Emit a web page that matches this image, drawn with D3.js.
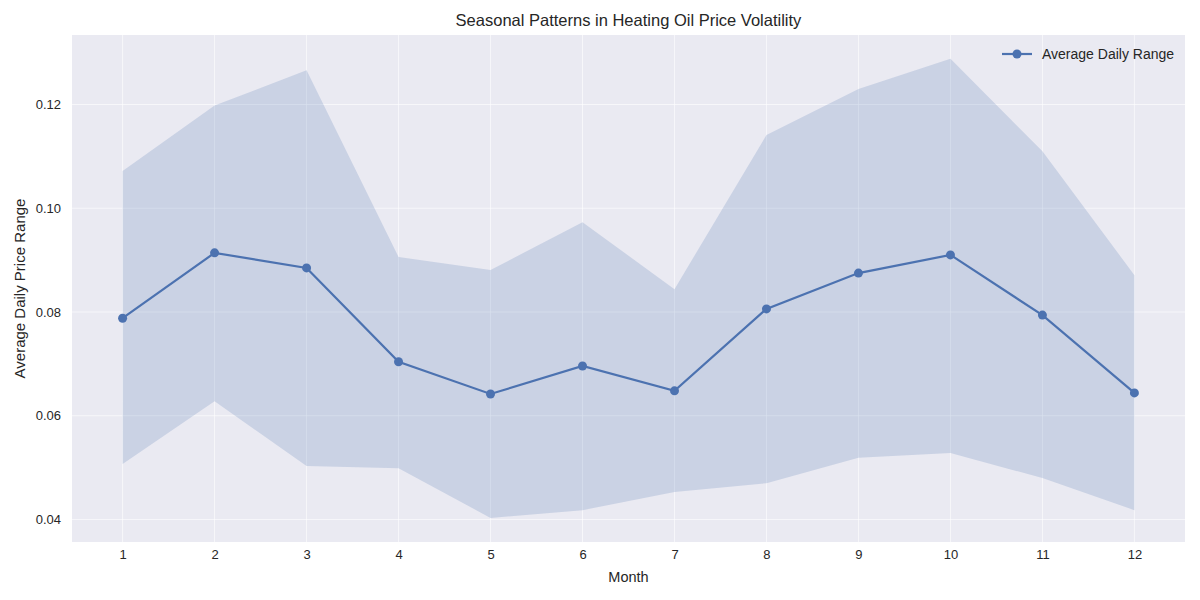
<!DOCTYPE html>
<html><head><meta charset="utf-8">
<script src="https://cdn.jsdelivr.net/npm/d3@7"></script>
<style>body{margin:0;background:#fff;} text{font-family:"Liberation Sans",Arial,sans-serif;fill:#262626;}</style>
</head><body>
<svg id="c" width="1200" height="600"></svg>
<script>
const months = [1,2,3,4,5,6,7,8,9,10,11,12];
const meanRange = [0.0788,0.0914,0.0885,0.0704,0.0642,0.0696,0.0648,0.0806,0.0875,0.0910,0.0794,0.0644];
const upperBand = [0.1072,0.1198,0.1266,0.0906,0.0881,0.0973,0.0844,0.1141,0.1230,0.1288,0.1110,0.0871];
const lowerBand = [0.0507,0.0628,0.0503,0.0499,0.0403,0.0418,0.0453,0.0470,0.0519,0.0528,0.0480,0.0418];
const yTicks = [0.04,0.06,0.08,0.10,0.12];

const svg = d3.select("#c");
const L=72, R=1185, T=35, B=542;
const x = d3.scaleLinear().domain([0.45,12.55]).range([L,R]);
const y = d3.scaleLinear().domain([0.03566,0.1334]).range([B,T]);
const color = "#4C72B0";

svg.append("rect").attr("x",L).attr("y",T).attr("width",R-L).attr("height",B-T).attr("fill","#EAEAF2");

const g = svg.append("g");
g.selectAll(".gx").data(months).enter().append("line")
  .attr("x1",d=>x(d)).attr("x2",d=>x(d)).attr("y1",T).attr("y2",B)
  .attr("stroke","#fff").attr("stroke-width",1).attr("stroke-opacity",0.6);
g.selectAll(".gy").data(yTicks).enter().append("line")
  .attr("x1",L).attr("x2",R).attr("y1",d=>y(d)).attr("y2",d=>y(d))
  .attr("stroke","#fff").attr("stroke-width",1).attr("stroke-opacity",0.6);

const data = months.map((m,i)=>({m, v:meanRange[i], hi:upperBand[i], lo:lowerBand[i]}));
svg.append("path").datum(data)
  .attr("d", d3.area().x(d=>x(d.m)).y0(d=>y(d.lo)).y1(d=>y(d.hi)))
  .attr("fill",color).attr("fill-opacity",0.2);

svg.append("path").datum(data)
  .attr("d", d3.line().x(d=>x(d.m)).y(d=>y(d.v)))
  .attr("fill","none").attr("stroke",color).attr("stroke-width",2.2);
svg.selectAll(".pt").data(data).enter().append("circle")
  .attr("cx",d=>x(d.m)).attr("cy",d=>y(d.v)).attr("r",4.5).attr("fill",color);

svg.append("g").attr("transform",`translate(0,${B})`)
  .call(d3.axisBottom(x).tickValues(months).tickFormat(d3.format("d")).tickSize(0).tickPadding(8))
  .call(a=>a.select(".domain").remove())
  .selectAll("text").style("font-size","13px").attr("fill","#262626");
svg.append("g").attr("transform",`translate(${L},0)`)
  .call(d3.axisLeft(y).tickValues(yTicks).tickFormat(d3.format(".2f")).tickSize(0).tickPadding(11))
  .call(a=>a.select(".domain").remove())
  .selectAll("text").style("font-size","13px").attr("fill","#262626");

svg.append("text").attr("x",(L+R)/2).attr("y",582).attr("text-anchor","middle").style("font-size","14.5px").text("Month");
svg.append("text").attr("transform",`translate(25,${(T+B)/2}) rotate(-90)`).attr("text-anchor","middle").style("font-size","15px").text("Average Daily Price Range");
svg.append("text").attr("x",(L+R)/2).attr("y",26).attr("text-anchor","middle").style("font-size","16.5px").text("Seasonal Patterns in Heating Oil Price Volatility");

const lg = svg.append("g").attr("transform","translate(1002,54)");
lg.append("line").attr("x1",0).attr("x2",30).attr("stroke",color).attr("stroke-width",2.2);
lg.append("circle").attr("cx",15).attr("r",4.5).attr("fill",color);
lg.append("text").attr("x",40).attr("y",5).style("font-size","14px").text("Average Daily Range");
</script>
</body></html>
